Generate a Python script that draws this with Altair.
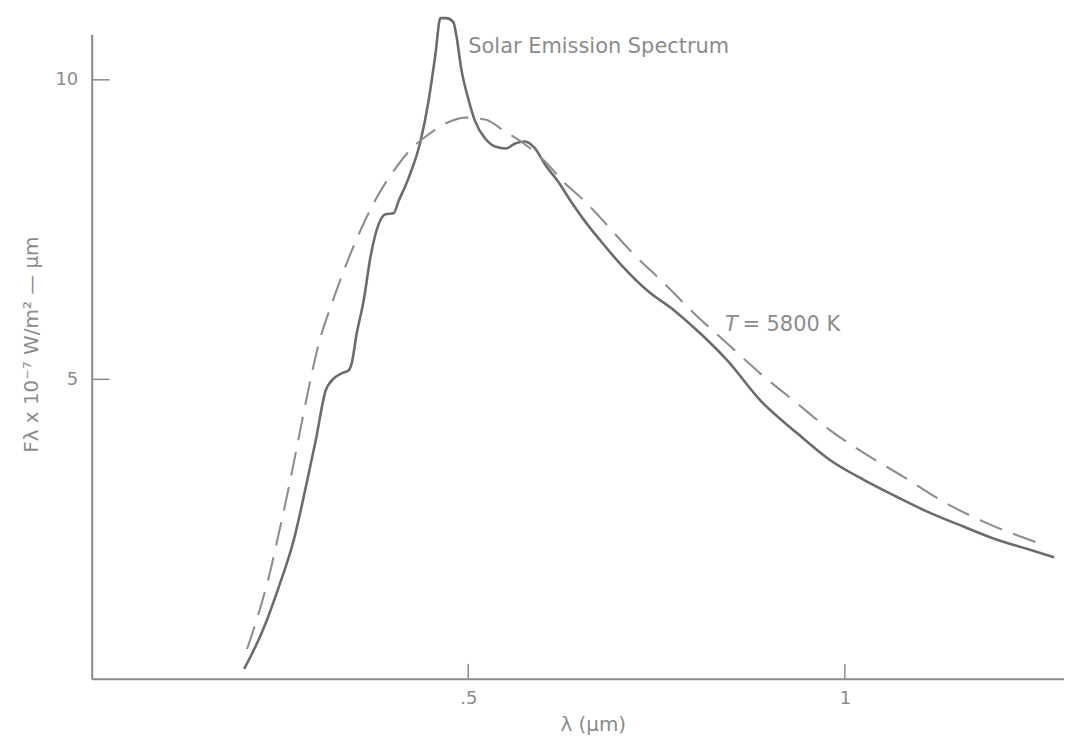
import altair as alt
import pandas as pd

# Measured solar emission spectrum (solid curve)
solar_wl = [0.2024, 0.2262, 0.2487, 0.2685, 0.2844, 0.2976, 0.3108, 0.3188, 0.3320, 0.3413,
            0.3452, 0.3519, 0.3611, 0.3704, 0.3810, 0.3902, 0.4008, 0.4074, 0.4206, 0.4365,
            0.4471, 0.4563, 0.4630, 0.4709, 0.4802, 0.4841, 0.4907, 0.5000, 0.5093, 0.5225,
            0.5357, 0.5503, 0.5622, 0.5754, 0.5886, 0.6019, 0.6190, 0.6362, 0.6548, 0.6759,
            0.7024, 0.7381, 0.7738, 0.8082, 0.8439, 0.8876, 0.9365, 0.9802, 1.0251, 1.0688,
            1.1124, 1.1574, 1.2011, 1.2447, 1.2778]
solar_f = [0.166, 0.781, 1.545, 2.326, 3.206, 3.987, 4.817, 4.983, 5.100, 5.150,
           5.266, 5.764, 6.312, 7.060, 7.591, 7.757, 7.774, 7.973, 8.355, 8.970,
           9.635, 10.415, 11.030, 11.030, 10.963, 10.748, 10.183, 9.684, 9.302, 9.020,
           8.887, 8.854, 8.937, 8.970, 8.854, 8.588, 8.306, 7.973, 7.641, 7.309,
           6.920, 6.478, 6.146, 5.764, 5.316, 4.651, 4.103, 3.654, 3.322, 3.040,
           2.774, 2.542, 2.326, 2.159, 2.027]

# Blackbody T = 5800 K (dashed curve)
bb_wl = [0.2063, 0.2222, 0.2354, 0.2487, 0.2619, 0.2751, 0.2884, 0.3016, 0.3188, 0.3479,
         0.3810, 0.4034, 0.4246, 0.4471, 0.4696, 0.4960, 0.5225, 0.5489, 0.5701, 0.6019,
         0.6283, 0.6548, 0.6759, 0.7156, 0.7606, 0.8003, 0.8439, 0.8876, 0.9365, 0.9802,
         1.0251, 1.0780, 1.1310, 1.1839, 1.2368, 1.2672]
bb_f = [0.498, 1.113, 1.711, 2.442, 3.206, 4.037, 4.867, 5.598, 6.262, 7.226,
        8.090, 8.522, 8.854, 9.086, 9.269, 9.369, 9.336, 9.136, 8.970, 8.638,
        8.272, 7.973, 7.691, 7.143, 6.595, 6.096, 5.598, 5.100, 4.601, 4.153,
        3.771, 3.372, 2.957, 2.625, 2.359, 2.226]

x_ticks = [0.5, 1.0]
x_tick_labels = [".5", "1"]
y_ticks = [5, 10]

ann_x = [0.500, 0.841]
ann_y = [10.55, 5.90]
ann_text = ["Solar Emission Spectrum", "T"]
ann2_x = [0.864]
ann2_y = [5.90]
ann2_text = ["= 5800 K"]

x_title = "λ (μm)"
y_title = "Fλ x 10⁻⁷ W/m² — μm"

W, H = 976, 647
FONT = "DejaVu Sans"
TXT = "#8c8c8c"
AX = "#8a8a8a"

xs = alt.Scale(domain=[0, 1.291], nice=False, zero=False)
ys = alt.Scale(domain=[0, 10.76], nice=False, zero=False)

label_expr = " : ".join(
    [f"datum.value == {v} ? '{t}'" for v, t in zip(x_ticks, x_tick_labels)] + ["''"]
)

x_axis = alt.Axis(
    values=x_ticks, labelExpr=label_expr, ticks=False, tickSize=0, grid=False,
    domainColor=AX, domainWidth=2, labelColor=TXT, labelFont=FONT, labelFontSize=18,
    labelPadding=11, title=x_title, titleFont=FONT, titleFontSize=20,
    titleFontWeight="normal", titleColor=TXT, titleX=503, titleY=46,
    titleAlign="center", titleBaseline="middle")
y_axis = alt.Axis(
    values=y_ticks, ticks=False, tickSize=0, grid=False,
    domainColor=AX, domainWidth=2, labelColor=TXT, labelFont=FONT, labelFontSize=18,
    labelPadding=14, title=y_title, titleFont=FONT, titleFontSize=20,
    titleFontWeight="normal", titleColor=TXT, titleX=-60, titleY=311,
    titleAngle=270, titleAlign="center", titleBaseline="middle")

df_solar = pd.DataFrame({"wl": solar_wl, "f": solar_f})
df_bb = pd.DataFrame({"wl": bb_wl, "f": bb_f})

solar = alt.Chart(df_solar).mark_line(
    color="#6c6c6c", strokeWidth=2.6, interpolate="monotone"
).encode(
    x=alt.X("wl:Q", scale=xs, axis=x_axis),
    y=alt.Y("f:Q", scale=ys, axis=y_axis),
    order="wl:Q",
)

bb = alt.Chart(df_bb).mark_line(
    color="#8e8e8e", strokeWidth=2.1, strokeDash=[24, 12], interpolate="monotone"
).encode(
    x=alt.X("wl:Q", scale=xs, axis=x_axis),
    y=alt.Y("f:Q", scale=ys, axis=y_axis),
    order="wl:Q",
)

xt = alt.Chart(pd.DataFrame({"wl": x_ticks})).mark_rule(color=AX, strokeWidth=1.5).encode(
    x=alt.X("wl:Q", scale=xs, axis=x_axis),
    y=alt.value(H),
    y2=alt.value(H - 15),
)
yt = alt.Chart(pd.DataFrame({"f": y_ticks})).mark_rule(color=AX, strokeWidth=1.5).encode(
    y=alt.Y("f:Q", scale=ys, axis=y_axis),
    x=alt.value(0),
    x2=alt.value(18),
)


def text_layer(xv, yv, tv, italic=False):
    props = dict(align="left", baseline="middle", font=FONT, fontSize=21, color=TXT)
    if italic:
        props["fontStyle"] = "italic"
    return alt.Chart(pd.DataFrame({"wl": xv, "f": yv, "t": tv})).mark_text(**props).encode(
        x=alt.X("wl:Q", scale=xs, axis=x_axis),
        y=alt.Y("f:Q", scale=ys, axis=y_axis),
        text="t:N",
    )


ann_title = text_layer(ann_x[:1], ann_y[:1], ann_text[:1])
ann_T = text_layer(ann_x[1:], ann_y[1:], ann_text[1:], italic=True)
ann2 = text_layer(ann2_x, ann2_y, ann2_text)

chart = alt.layer(solar, bb, xt, yt, ann_title, ann_T, ann2).properties(
    width=W, height=H,
    autosize=alt.AutoSizeParams(type="none"),
    padding={"left": 84, "top": 25, "right": 0, "bottom": 62},
    background="white",
).configure_view(stroke=None)

chart.save("out.html", embed_options={"renderer": "svg", "actions": False})
